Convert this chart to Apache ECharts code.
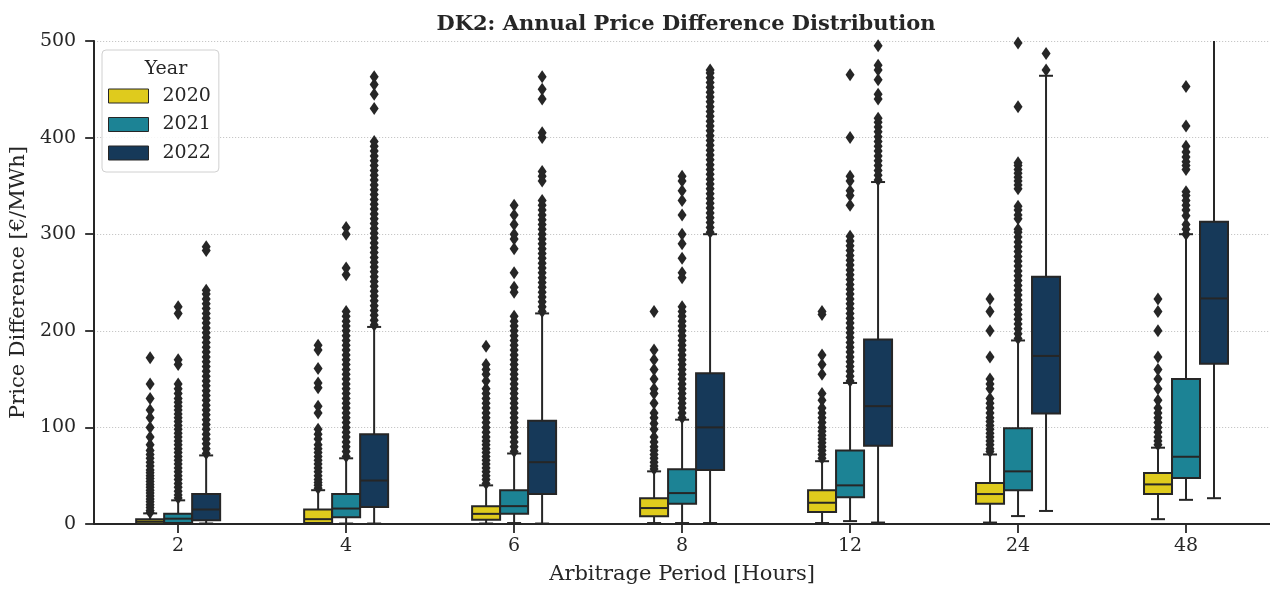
<!DOCTYPE html>
<html>
<head>
<meta charset="utf-8">
<script src="https://cdn.jsdelivr.net/npm/echarts@6/dist/echarts.min.js"></script>
<style>
  html, body { margin: 0; padding: 0; background: #fff; }
  #chart { width: 1270px; height: 590px; }
</style>
</head>
<body>
<div id="chart"></div>
<script>
// categories on the x axis (arbitrage period, hours)
const categories = ['2', '4', '6', '8', '12', '24', '48'];
const years = ['2020', '2021', '2022'];
const yearColors = ['#dfcb1d', '#1c8395', '#163959'];

// box stats per category: [min, q1, median, q3, max]
const box2020 = [
  [0.5, 0.5, 2.5, 5, 11], [0.5, 1, 5, 15, 35], [0.5, 4.5, 10.5, 18.5, 40], [1, 8, 16.5, 26.7, 54.5],
  [1, 12.3, 22, 35, 65], [1.5, 21, 31, 42.5, 72], [5, 31, 41, 52.8, 79]
];
const box2021 = [
  [0.5, 1, 5.5, 10.6, 24.5], [0.5, 7, 16, 31, 68], [1, 10.6, 18.5, 35, 73], [1, 21, 32, 56.6, 108],
  [3, 27.8, 40, 76, 146], [8.2, 35, 54.5, 99, 190], [25, 47.6, 69.6, 150, 300]
];
const box2022 = [
  [0.5, 4, 15, 31, 71], [0.5, 17.5, 45, 93, 204], [0.5, 31, 64, 107, 218], [1, 56, 100, 156, 300],
  [1.5, 81, 122, 191, 354], [13.5, 114.5, 174, 256, 464], [26.7, 166, 233.5, 313, 560]
];

// outliers per category
const out2020 = [
  [12, 14, 17, 20, 23, 26, 29, 32, 35, 38, 41, 44, 47, 50, 53, 56, 60, 64, 68, 72, 76, 82, 90, 100, 110, 118, 130, 145, 172],
  [37, 40, 43, 46, 50, 54, 58, 62, 66, 70, 74, 78, 82, 88, 93, 98, 115, 122, 141, 146, 161, 180, 185],
  [42, 46, 50, 54, 58, 62, 66, 70, 74, 78, 82, 86, 90, 95, 100, 105, 110, 115, 120, 125, 130, 135, 140, 148, 155, 160, 165, 184],
  [57, 60, 64, 68, 72, 76, 80, 85, 90, 98, 104, 110, 115, 125, 135, 140, 150, 160, 170, 180, 220],
  [68, 72, 76, 80, 84, 88, 92, 96, 100, 105, 110, 115, 120, 128, 135, 155, 165, 175, 217, 220],
  [75, 78, 82, 86, 90, 94, 98, 102, 106, 110, 115, 120, 125, 130, 140, 145, 150, 173, 200, 220, 233],
  [82, 86, 90, 95, 100, 105, 110, 115, 120, 128, 140, 150, 160, 173, 200, 220, 233]
];
const out2021 = [
  [27, 30, 34, 38, 42, 46, 50, 54, 58, 62, 66, 70, 74, 78, 82, 86, 90, 94, 98, 102, 106, 110, 114, 118, 122, 126, 130, 135, 140, 145, 165, 170, 218, 225],
  [70, 75, 80, 85, 90, 95, 100, 105, 110, 115, 120, 125, 130, 135, 140, 145, 150, 155, 160, 165, 170, 175, 180, 185, 190, 195, 200, 205, 210, 215, 220, 258, 265, 300, 307],
  [75, 80, 85, 90, 95, 100, 105, 110, 115, 120, 125, 130, 135, 140, 145, 150, 155, 160, 165, 170, 175, 180, 185, 190, 195, 200, 205, 210, 215, 240, 245, 260, 285, 295, 300, 310, 320, 330],
  [110, 115, 120, 125, 130, 135, 140, 145, 150, 155, 160, 165, 170, 175, 180, 185, 190, 195, 200, 205, 210, 215, 220, 225, 255, 260, 275, 290, 300, 320, 335, 345, 355, 360],
  [148, 153, 158, 163, 168, 173, 178, 183, 188, 193, 198, 203, 208, 213, 218, 223, 228, 233, 238, 243, 248, 253, 258, 263, 268, 273, 278, 283, 288, 293, 298, 330, 340, 345, 355, 360, 400, 465],
  [192, 197, 202, 207, 212, 217, 222, 227, 232, 237, 242, 247, 252, 257, 262, 267, 272, 277, 282, 287, 292, 297, 302, 305, 316, 320, 325, 329, 347, 351, 355, 359, 363, 367, 371, 374, 432, 498],
  [300, 305, 310, 319, 325, 330, 335, 340, 344, 367, 371, 375, 380, 385, 391, 412, 453]
];
const out2022 = [
  [73, 78, 83, 88, 93, 98, 103, 108, 113, 118, 123, 128, 133, 138, 143, 148, 153, 158, 163, 168, 173, 178, 183, 188, 193, 198, 203, 208, 213, 218, 223, 228, 233, 238, 242, 283, 287],
  [206, 211, 216, 221, 226, 231, 236, 241, 246, 251, 256, 261, 266, 271, 276, 281, 286, 291, 296, 301, 306, 311, 316, 321, 326, 331, 336, 341, 346, 351, 356, 361, 366, 371, 376, 381, 386, 391, 396, 430, 445, 455, 463],
  [220, 225, 230, 235, 240, 245, 250, 255, 260, 265, 270, 275, 280, 285, 290, 295, 300, 305, 310, 315, 320, 325, 330, 335, 355, 360, 365, 400, 405, 440, 450, 463],
  [302, 307, 312, 317, 322, 327, 332, 337, 342, 347, 352, 357, 362, 367, 372, 377, 382, 387, 392, 397, 402, 407, 412, 417, 422, 427, 432, 437, 442, 447, 452, 457, 462, 467, 470],
  [356, 361, 366, 371, 376, 381, 386, 391, 396, 401, 406, 411, 416, 420, 440, 445, 460, 470, 475, 495],
  [470, 487],
  []
];

const boxes = [box2020, box2021, box2022];
const outliers = [out2020, out2021, out2022];

const FONT = 'DejaVu Serif';
const INK = '#262626';
const gridLeft = 92, gridRight = 0;
const chartW = 1270;
const bandPx = (chartW - gridLeft - gridRight) / categories.length;

var chartDom = document.getElementById('chart');
var myChart = echarts.init(chartDom);

function boxRenderer(slot) {
  return function (params, api) {
    const ci = api.value(0);
    const band = api.size([1, 0])[0];
    const w = band / 6;
    const cx = api.coord([ci, 0])[0] + slot * w;
    const y = (k) => api.coord([ci, api.value(k)])[1];
    const yMin = y(1), yQ1 = y(2), yMed = y(3), yQ3 = y(4), yMax = y(5);
    const ls = { stroke: INK, lineWidth: 2 };
    return {
      type: 'group',
      children: [
        { type: 'line', shape: { x1: cx, y1: yQ1, x2: cx, y2: yMin }, style: ls },
        { type: 'line', shape: { x1: cx, y1: yQ3, x2: cx, y2: yMax }, style: ls },
        { type: 'line', shape: { x1: cx - w / 4, y1: yMin, x2: cx + w / 4, y2: yMin }, style: ls },
        { type: 'line', shape: { x1: cx - w / 4, y1: yMax, x2: cx + w / 4, y2: yMax }, style: ls },
        {
          type: 'rect',
          shape: { x: cx - w / 2, y: yQ3, width: w, height: yQ1 - yQ3 },
          style: { fill: api.visual('color'), stroke: INK, lineWidth: 2 }
        },
        { type: 'line', shape: { x1: cx - w / 2, y1: yMed, x2: cx + w / 2, y2: yMed }, style: ls }
      ]
    };
  };
}

const series = [];
years.forEach(function (yr, i) {
  series.push({
    name: yr,
    type: 'custom',
    renderItem: boxRenderer(i - 1),
    clip: true,
    itemStyle: { color: yearColors[i] },
    encode: { x: 0, y: [1, 2, 3, 4, 5] },
    data: boxes[i].map((b, ci) => [ci].concat(b)),
    z: 2
  });
});
years.forEach(function (yr, i) {
  const pts = [];
  outliers[i].forEach((list, ci) => list.forEach(v => pts.push([ci, v])));
  series.push({
    name: 'outliers ' + yr,
    type: 'scatter',
    symbol: 'diamond',
    symbolSize: [9, 13],
    symbolOffset: [(i - 1) * bandPx / 6, 0],
    clip: true,
    itemStyle: { color: INK, opacity: 1 },
    data: pts,
    z: 3,
    silent: true
  });
});

var option = {
  animation: false,
  backgroundColor: '#fff',
  textStyle: { fontFamily: FONT },
  title: [
    {
      text: 'DK2: Annual Price Difference Distribution',
      left: 681,
      top: 9,
      textAlign: 'center',
      textStyle: { fontFamily: FONT, fontWeight: 'bold', fontSize: 21, color: INK }
    },
    {
      text: 'Year',
      left: 161,
      top: 55,
      textAlign: 'center',
      z: 10,
      textStyle: { fontFamily: FONT, fontWeight: 'normal', fontSize: 19, color: INK }
    }
  ],
  legend: {
    orient: 'vertical',
    left: 102,
    top: 50,
    padding: [36, 8, 9, 6],
    backgroundColor: 'rgba(255,255,255,0.85)',
    borderColor: '#d0d0d0',
    borderWidth: 1,
    borderRadius: 4,
    itemWidth: 40,
    itemHeight: 14,
    itemGap: 8.5,
    icon: 'rect',
    textStyle: { fontFamily: FONT, fontSize: 19, color: INK, lineHeight: 20, padding: [0, 0, 0, 9] },
    data: years.map((yr, i) => ({
      name: yr,
      itemStyle: { color: yearColors[i], borderColor: INK, borderWidth: 1 }
    }))
  },
  grid: { left: gridLeft, right: gridRight, top: 41, bottom: 63, containLabel: false },
  xAxis: {
    type: 'category',
    data: categories,
    boundaryGap: true,
    name: 'Arbitrage Period [Hours]',
    nameLocation: 'middle',
    nameGap: 40,
    nameTextStyle: { fontFamily: FONT, fontSize: 21, color: INK },
    axisLine: { show: true, lineStyle: { color: INK, width: 2 } },
    axisTick: { show: true, alignWithLabel: true, length: 9, lineStyle: { color: INK, width: 1.8 } },
    axisLabel: { fontFamily: FONT, fontSize: 19, color: INK, margin: 13 },
    splitLine: { show: false }
  },
  yAxis: {
    type: 'value',
    min: 0,
    max: 500,
    interval: 100,
    name: 'Price Difference [€/MWh]',
    nameLocation: 'middle',
    nameGap: 64,
    nameTextStyle: { fontFamily: FONT, fontSize: 21, color: INK },
    axisLine: { show: true, lineStyle: { color: INK, width: 2 } },
    axisTick: { show: true, length: 9, lineStyle: { color: INK, width: 1.8 } },
    axisLabel: { fontFamily: FONT, fontSize: 19, color: INK, margin: 18 },
    splitLine: { show: true, lineStyle: { color: '#bdbdbd', width: 1, type: [1, 2] } }
  },
  series: series
};

myChart.setOption(option, true);
</script>
</body>
</html>
